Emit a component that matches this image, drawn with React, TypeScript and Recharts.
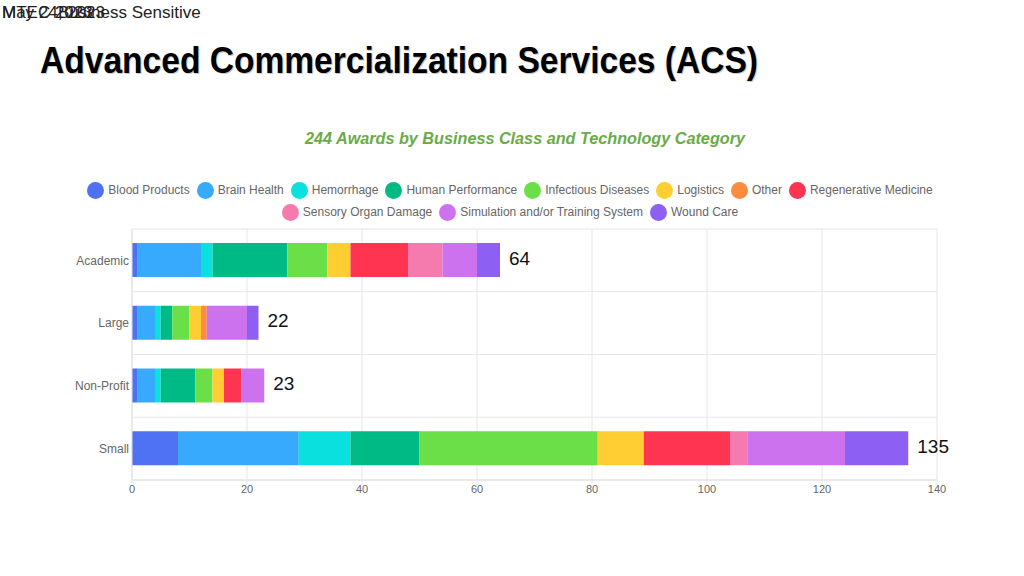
import React from 'react';
import { BarChart, Bar, XAxis, YAxis, CartesianGrid, LabelList } from 'recharts';

const businessClasses = ['Academic', 'Large', 'Non-Profit', 'Small'];

const bloodProducts = [1, 1, 1, 8];
const brainHealth = [11, 3, 3, 21];
const hemorrhage = [2, 1, 1, 9];
const humanPerformance = [13, 2, 6, 12];
const infectiousDiseases = [7, 3, 3, 31];
const logistics = [4, 2, 2, 8];
const other = [0, 1, 0, 0];
const regenerativeMedicine = [10, 0, 3, 15];
const sensoryOrganDamage = [6, 0, 0, 3];
const simulationTraining = [6, 7, 4, 17];
const woundCare = [4, 2, 0, 11];

const xTicks = [0, 20, 40, 60, 80, 100, 120, 140];

const series = [
  { key: 'Blood Products', values: bloodProducts, color: '#4f72f5' },
  { key: 'Brain Health', values: brainHealth, color: '#37aafe' },
  { key: 'Hemorrhage', values: hemorrhage, color: '#0ae0dd' },
  { key: 'Human Performance', values: humanPerformance, color: '#00ba86' },
  { key: 'Infectious Diseases', values: infectiousDiseases, color: '#6bdf47' },
  { key: 'Logistics', values: logistics, color: '#ffce33' },
  { key: 'Other', values: other, color: '#ff8b3d' },
  { key: 'Regenerative Medicine', values: regenerativeMedicine, color: '#ff3450' },
  { key: 'Sensory Organ Damage', values: sensoryOrganDamage, color: '#f57bae' },
  { key: 'Simulation and/or Training System', values: simulationTraining, color: '#cc72ee' },
  { key: 'Wound Care', values: woundCare, color: '#8d5ff3' },
];

// one row per business class; the total goes on the last non-empty segment
const data = businessClasses.map((name, i) => {
  const row: Record<string, string | number | null> = { name };
  let total = 0;
  let last = '';
  series.forEach((s) => {
    row[s.key] = s.values[i];
    total += s.values[i];
    if (s.values[i] > 0) last = s.key;
  });
  series.forEach((s) => {
    row['total_' + s.key] = s.key === last ? total : null;
  });
  return row;
});

const FONT = '"Liberation Sans", Arial, sans-serif';

function TotalLabel(props: any) {
  if (props.value == null) return null;
  const vb = props.viewBox || props;
  const { x, y, width, height } = vb;
  return (
    <text
      x={x + width + 9}
      y={y + height / 2 - 2}
      dominantBaseline="central"
      fontSize={19}
      fill="#111"
      fontFamily={FONT}
    >
      {props.value}
    </text>
  );
}

function bandLines({ offset }: any) {
  return businessClasses
    .map((_, i) => offset.top + (i * offset.height) / businessClasses.length)
    .concat(offset.top + offset.height);
}

export default function App() {
  return (
    <div style={{ position: 'absolute', left: 0, top: 0, width: 1024, height: 576, background: '#fff', fontFamily: FONT }}>
      <BarChart
        width={1024}
        height={576}
        data={data}
        layout="vertical"
        margin={{ top: 229, right: 87, bottom: 66, left: 0 }}
        style={{ fontFamily: FONT }}
      >
        <CartesianGrid stroke="#e6e6e6" horizontalCoordinatesGenerator={bandLines} />
        <XAxis
          type="number"
          domain={[0, 140]}
          ticks={xTicks}
          height={30}
          axisLine={{ stroke: '#e0e0e0' }}
          tickLine={{ stroke: '#e6e6e6' }}
          tickSize={5}
          tickMargin={0}
          tick={{ fontSize: 11, fill: '#666' }}
        />
        <YAxis
          type="category"
          dataKey="name"
          width={132}
          axisLine={{ stroke: '#e0e0e0' }}
          tickLine={false}
          tickSize={0}
          tickMargin={3}
          tick={{ fontSize: 12, fill: '#666' }}
        />
        {series.map((s) => (
          <Bar key={s.key} dataKey={s.key} stackId="a" fill={s.color} barSize={34} isAnimationActive={false}>
            <LabelList dataKey={'total_' + s.key} content={TotalLabel} />
          </Bar>
        ))}
      </BarChart>

      <div
        style={{
          position: 'absolute',
          left: 80,
          top: 181,
          width: 860,
          display: 'flex',
          flexWrap: 'wrap',
          justifyContent: 'center',
          rowGap: 4,
          columnGap: 7,
        }}
      >
        {series.map((s) => (
          <div key={s.key} style={{ display: 'flex', alignItems: 'center', height: 18 }}>
            <span
              style={{ width: 17, height: 17, borderRadius: '50%', background: s.color, marginRight: 4, display: 'inline-block' }}
            />
            <span style={{ fontSize: 12, color: '#666', whiteSpace: 'nowrap' }}>{s.key}</span>
          </div>
        ))}
      </div>

      <svg width={1024} height={160} style={{ position: 'absolute', left: 0, top: 0 }}>
        <text x={2} y={18} fontSize={17} fill="#222" fontFamily={FONT}>MTEC 2023</text>
        <text x={2} y={18} fontSize={17} fill="#222" fontFamily={FONT}>May 24, 2023</text>
        <text x={58} y={18} fontSize={17} fill="#222" fontFamily={FONT}>Business Sensitive</text>
        <text
          x={41}
          y={74}
          fontSize={36}
          fontWeight={900}
          fill="#c8c8c8"
          fontFamily={FONT}
          textLength={718}
          lengthAdjust="spacingAndGlyphs"
        >
          Advanced Commercialization Services (ACS)
        </text>
        <text
          x={40}
          y={73}
          fontSize={36}
          fontWeight={900}
          fill="#000"
          fontFamily={FONT}
          textLength={718}
          lengthAdjust="spacingAndGlyphs"
        >
          Advanced Commercialization Services (ACS)
        </text>
        <text
          x={305}
          y={144}
          fontSize={16}
          fontWeight={700}
          fontStyle="italic"
          fill="#6aab47"
          fontFamily={FONT}
          textLength={440}
          lengthAdjust="spacingAndGlyphs"
        >
          244 Awards by Business Class and Technology Category
        </text>
      </svg>
    </div>
  );
}
